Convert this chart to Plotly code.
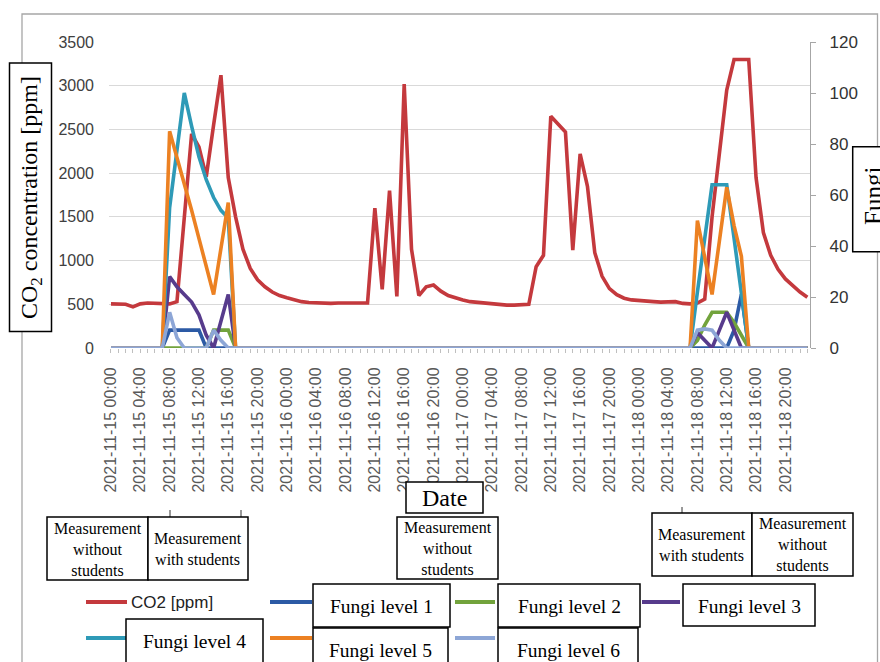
import pandas as pd
import plotly.graph_objects as go

# ---------------- data ----------------
times = pd.date_range("2021-11-15 00:00", periods=96, freq="h")

co2_ppm = [
    505, 505, 500, 470, 505, 515, 510, 505, 505, 530, 1500, 2450,
    2300, 1960, 2550, 3120, 1950, 1500, 1130, 910, 780, 700, 640, 600,
    575, 550, 530, 520, 515, 510, 510, 515, 510, 515, 515, 515,
    1600, 670, 1800, 590, 3020, 1130, 600, 700, 720, 650, 600, 570,
    550, 530, 520, 510, 505, 495, 490, 490, 495, 500, 930, 1060,
    2650, 2560, 2470, 1120, 2220, 1850, 1090, 820, 680, 610, 570, 550,
    540, 530, 530, 525, 525, 530, 510, 505, 515, 560, 1500, 2250,
    2950, 3300, 3300, 3300, 1950, 1320, 1060, 900, 790, 710, 640, 580,
]

Z = [0] * 24
fungi_1 = ([0]*8 + [7, 7, 7, 7, 7] + [0]*11) + Z + Z + ([0]*13 + [7, 21] + [0]*9)
fungi_2 = ([0]*14 + [7, 7, 7] + [0]*7) + Z + Z + ([0]*8 + [3, 9, 14, 14, 14, 10, 5] + [0]*9)
fungi_3 = ([0]*8 + [28, 24, 21, 18, 13, 5, 0, 10, 21] + [0]*7) + Z + Z + ([0]*8 + [6, 3, 0, 7, 14, 7] + [0]*10)
fungi_4 = ([0]*8 + [55, 78, 100, 87, 75, 66, 59, 54, 51] + [0]*7) + Z + Z + ([0]*8 + [22, 44, 64, 64, 64, 43, 22] + [0]*9)
fungi_5 = ([0]*8 + [85, 75, 65, 54, 43, 32, 21, 39, 57] + [0]*7) + Z + Z + ([0]*8 + [50, 35, 21, 42, 63, 48, 36] + [0]*9)
fungi_6 = ([0]*8 + [14, 4, 0, 0, 0, 0, 7, 3] + [0]*8) + Z + Z + ([0]*8 + [7, 7.5, 7, 3] + [0]*12)

series_names = ["CO2 [ppm]", "Fungi level 1", "Fungi level 2", "Fungi level 3",
                "Fungi level 4", "Fungi level 5", "Fungi level 6"]
colors = ["#C4393D", "#2C5AA5", "#72A33C", "#573B8C", "#2E9AB7", "#EC8122", "#8DA6D6"]

tick_times = times[::4]
tick_text = [t.strftime("%Y-%m-%d %H:%M") for t in tick_times]

# ---------------- layout helpers (pixel -> paper) ----------------
W, H = 880, 662
L, R, T, B = 109, 810, 42, 348


def px(x):
    return (x - L) / (R - L)


def py(y):
    return (B - y) / (B - T)


fig = go.Figure()
fig.add_trace(go.Scatter(x=times, y=co2_ppm, mode="lines", name=series_names[0],
                         line=dict(color=colors[0], width=3.6), yaxis="y"))
for name, vals, col in zip(series_names[1:], [fungi_1, fungi_2, fungi_3, fungi_4, fungi_5, fungi_6], colors[1:]):
    fig.add_trace(go.Scatter(x=times, y=vals, mode="lines", name=name,
                             line=dict(color=col, width=3.6), yaxis="y2"))

x_start = times[0] - pd.Timedelta(hours=0.27)
x_end = times[0] + pd.Timedelta(hours=95.36)

shapes = []
annotations = []


def box(x0, y0, x1, y1, lw=1.5):
    shapes.append(dict(type="rect", xref="paper", yref="paper",
                       x0=px(x0), x1=px(x1), y0=py(y1), y1=py(y0),
                       line=dict(color="black", width=lw), fillcolor="white", layer="above"))


def text(x, y, s, size, family="Liberation Serif", angle=0, xanchor="center", color="black"):
    annotations.append(dict(x=px(x), y=py(y), xref="paper", yref="paper", text=s,
                            showarrow=False, textangle=angle, xanchor=xanchor, yanchor="middle",
                            font=dict(family=family, size=size, color=color)))


def seg(x0, y0, x1, y1, color, width):
    shapes.append(dict(type="line", xref="paper", yref="paper",
                       x0=px(x0), x1=px(x1), y0=py(y0), y1=py(y1),
                       line=dict(color=color, width=width), layer="above"))


# outer frame
shapes.append(dict(type="rect", xref="paper", yref="paper", x0=px(22), x1=px(877.5),
                   y0=py(700), y1=py(14), line=dict(color="#a6a6a6", width=1.3),
                   fillcolor="rgba(0,0,0,0)", layer="above"))

# legend line samples
seg(86, 602, 127, 602, colors[0], 4)
seg(270, 602, 312, 602, colors[1], 4)
seg(455, 602, 495, 602, colors[2], 4)
seg(642, 602, 680, 602, colors[3], 4)
seg(86, 638, 127, 638, colors[4], 4)
seg(270, 638, 312, 638, colors[5], 4)
seg(455, 638, 495, 638, colors[6], 4)
text(129, 602, "CO2 [ppm]", 17, family="Liberation Sans", xanchor="left", color="#222222")

# axis title boxes
box(9.5, 63, 51.5, 331.5)
text(30.5, 197.5, "CO<sub>2</sub> concentration [ppm]", 24, angle=-90)
box(852.7, 146.7, 910, 251.7)
text(873, 196, "Fungi", 25, angle=-90)
box(406, 482, 483, 513)
text(444.5, 498, "Date", 24)

# small ticks above measurement boxes
seg(170, 510, 170, 517, "#333333", 1)
seg(241, 510, 241, 517, "#333333", 1)
seg(682, 507, 682, 513, "#333333", 1)

# measurement boxes
box(47, 517, 148, 580)
text(97.5, 549, "Measurement<br>without<br>students", 16)
box(148, 517, 248, 580)
text(198, 549, "Measurement<br>with students", 16)
box(397, 517, 498, 579)
text(447.5, 548, "Measurement<br>without<br>students", 16)
box(652, 513, 752, 576)
text(702, 544.5, "Measurement<br>with students", 16)
box(752, 513, 853, 576)
text(802.5, 544.5, "Measurement<br>without<br>students", 16)

# fungi legend label boxes
box(313, 584, 450, 627)
text(381.5, 606, "Fungi level 1", 19.5)
box(498, 584, 640, 627)
text(569, 606, "Fungi level 2", 19.5)
box(683, 584, 815, 626)
text(749, 606, "Fungi level 3", 19.5)
box(126, 619, 263, 668)
text(194.5, 641, "Fungi level 4", 19.5)
box(313, 628, 448, 668)
text(380.5, 650, "Fungi level 5", 19.5)
box(498, 628, 638, 668)
text(568, 650, "Fungi level 6", 19.5)

fig.update_layout(
    width=W, height=H,
    margin=dict(l=L, r=W - R, t=T, b=H - B, pad=0),
    paper_bgcolor="white", plot_bgcolor="white",
    showlegend=False,
    xaxis=dict(type="date", range=[x_start, x_end], tickvals=list(tick_times), ticktext=tick_text,
               tickangle=-90, tickfont=dict(family="Liberation Sans", size=16, color="#595959"),
               ticks="outside", ticklen=4, tickcolor="#bfbfbf", ticklabelstandoff=8,
               minor=dict(ticks="outside", ticklen=4, tickcolor="#bfbfbf", dtick=3600000,
                          tick0=str(times[0])),
               showgrid=False, showline=False, zeroline=False),
    yaxis=dict(range=[0, 3500], dtick=500, showgrid=True, gridcolor="#d9d9d9", gridwidth=1.3,
               tickfont=dict(family="Liberation Sans", size=16, color="#404040"),
               showline=False, zeroline=False, ticks="", ticklabelstandoff=14),
    yaxis2=dict(range=[0, 120], dtick=20, overlaying="y", side="right", showgrid=False,
                showline=True, linecolor="#a6a6a6", linewidth=1.3, ticks="outside", ticklen=5,
                tickcolor="#a6a6a6", zeroline=False, ticklabelstandoff=10,
                tickfont=dict(family="Liberation Sans", size=17, color="#333333")),
    shapes=shapes,
    annotations=annotations,
)

fig.write_html("out.html")
